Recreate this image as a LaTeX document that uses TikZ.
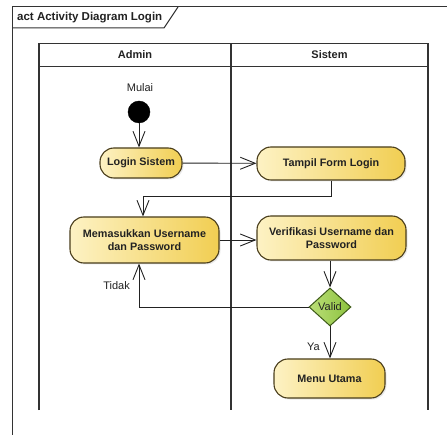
\documentclass[tikz,border=0pt]{standalone}
\usepackage{fontspec}
\setmainfont{Liberation Sans}
\usetikzlibrary{arrows.meta,shapes.geometric,shadows}
\definecolor{actlight}{HTML}{FDF2C4}
\definecolor{actdark}{HTML}{F1CE52}
\definecolor{actedge}{HTML}{4A3E1C}
\definecolor{declight}{HTML}{BBDF78}
\definecolor{decdark}{HTML}{8CC23E}
\definecolor{decedge}{HTML}{3D5A18}
\definecolor{ink}{HTML}{222222}
\definecolor{lane}{HTML}{333333}
\begin{document}
\begin{tikzpicture}[x=1pt,y=-1pt,
  action/.style={draw=actedge, line width=1.1pt, rounded corners=14pt,
    left color=actlight, right color=actdark, align=center, inner sep=0pt,
    font=\fontsize{10.8}{12.5}\selectfont\bfseries, text=ink,
    drop shadow={opacity=0.18, shadow xshift=1.5pt, shadow yshift=-1.5pt}},
  decision/.style={diamond, draw=decedge, line width=1pt, inner sep=0pt,
    left color=declight, right color=decdark, text=ink,
    minimum width=42pt, minimum height=38pt,
    font=\fontsize{11}{13}\selectfont},
  initial/.style={circle, fill=black, draw=black, minimum size=22pt, inner sep=0pt},
  lbl/.style={font=\fontsize{11}{13}\selectfont, text=ink, inner sep=0pt},
  arr/.style={draw=ink, line width=0.9pt,
    -{Straight Barb[length=15pt,width=12pt,line width=0.9pt]}},
  flow/.style={draw=ink, line width=0.9pt},
  lanes/.style={draw=lane, line width=1.3pt},
]
\useasboundingbox (0,0) rectangle (447,435);
\fill[white] (0,0) rectangle (447,435);
\begin{scope}
\clip (0,0) rectangle (447,435);
% diagram frame and its title tab
\draw[lanes, line width=1pt] (12.5,450) -- (12.5,7) -- (470,7);
\draw[lanes, line width=1pt] (12.5,28) -- (164,28) -- (178,7);
\node[anchor=west, inner sep=0pt, font=\fontsize{11.5}{13}\selectfont\bfseries, text=ink]
  (title) at (17,17.5) {act Activity Diagram Login};
\end{scope}

% swimlanes
\draw[lanes] (39,410) -- (39,43.5) -- (428,43.5) -- (428,410);
\draw[lanes] (231,43.5) -- (231,410);
\draw[lanes] (39,66.7) -- (428,66.7);
\node[lbl, font=\fontsize{11}{13}\selectfont\bfseries] (admin) at (135,55) {Admin};
\node[lbl, font=\fontsize{11}{13}\selectfont\bfseries] (sistem) at (329.5,55) {Sistem};

% activities
\node[initial] (start) at (139,112) {};
\node[lbl] (mulai) at (140,88) {Mulai};
\node[action, minimum width=82pt, minimum height=30pt] (login) at (141,163) {Login Sistem};
\node[action, minimum width=148pt, minimum height=33pt] (tampil) at (331,163.5) {Tampil Form Login};
\node[action, minimum width=149pt, minimum height=46pt] (masuk) at (144.5,240) {Memasukkan Username\\dan Password};
\node[action, minimum width=149pt, minimum height=44pt] (verif) at (331.5,238) {Verifikasi Username dan\\Password};
\node[decision] (valid) at (330,307) {Valid};
\node[action, minimum width=111pt, minimum height=39pt] (menu) at (329.5,378.5) {Menu Utama};
\node[lbl, anchor=east] (tidak) at (130,286) {Tidak};
\node[lbl, anchor=east] (ya) at (320,347) {Ya};

% control flows
\draw[arr] (start) -- (start |- login.north);
\draw[arr] (login) -- (tampil);
\draw[arr] (tampil.south) -- ++(0,16) -| ([xshift=-1.5pt]masuk.north);
\draw[arr] (masuk) -- (verif.west |- masuk);
\draw[arr] (verif.south -| valid) -- (valid.north);
\draw[arr] (valid.west) -| ([xshift=-5.5pt]masuk.south);
\draw[arr] (valid.south) -- (menu.north -| valid);
\end{tikzpicture}
\end{document}
